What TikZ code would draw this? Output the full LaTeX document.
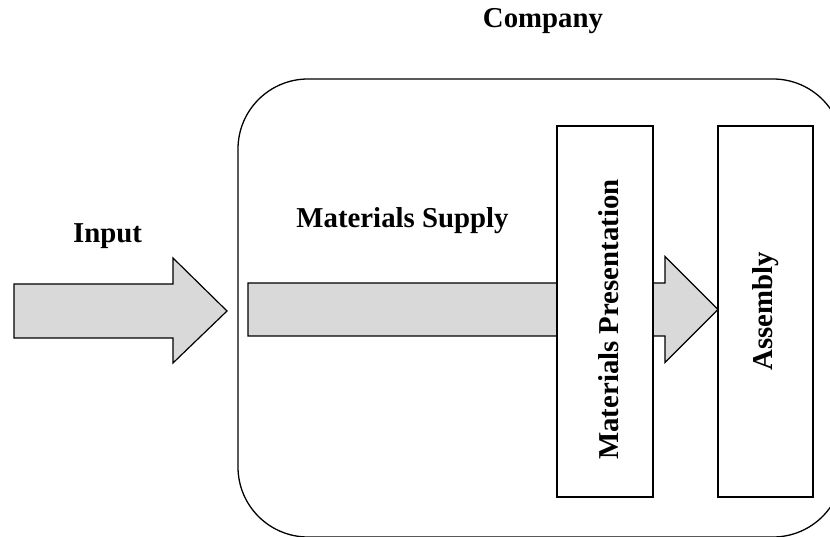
\documentclass[tikz,border=0pt]{standalone}
\usepackage{fontspec}
\setmainfont{Liberation Serif}
\begin{document}
\begin{tikzpicture}[x=1pt,y=-1pt,
  label/.style={font=\fontsize{28.8}{34}\selectfont\bfseries, inner sep=0pt},
  flow/.style={draw=black, line width=1.2pt, fill=black!15, line join=miter},
  stage/.style={draw=black, line width=1.4pt, fill=white},
  frame/.style={draw=black, line width=1.3pt, rounded corners=70pt}]
  \useasboundingbox (0,0) rectangle (830,537);
  \clip (0,0) rectangle (830,537);

  % company boundary
  \draw[frame] (238,79) rectangle (843,537);

  % materials supply flow (runs behind the presentation stage)
  \draw[flow] (248,283) -- (665,283) -- (665,256.5) -- (718,309.5)
    -- (665,362.5) -- (665,336) -- (248,336) -- cycle;

  % stages
  \node[stage, minimum width=96pt, minimum height=371pt, inner sep=0pt]
    (pres) at (605,311.5) {};
  \node[stage, minimum width=95pt, minimum height=371pt, inner sep=0pt]
    (asm) at (765.5,311.5) {};

  % input flow
  \draw[flow] (14,284) -- (173,284) -- (173,258) -- (227,311)
    -- (173,363) -- (173,338) -- (14,338) -- cycle;

  % labels
  \node[label, anchor=base] (company) at (543,28) {Company};
  \node[label, anchor=base] (input) at (107.5,243) {Input};
  \node[label, anchor=base] (supply) at (402.5,228) {Materials Supply};
  \node[label, anchor=base, rotate=90] (prestext) at (618,319.5) {Materials Presentation};
  \node[label, anchor=base, rotate=90] (asmtext) at (772,311) {Assembly};
\end{tikzpicture}
\end{document}
